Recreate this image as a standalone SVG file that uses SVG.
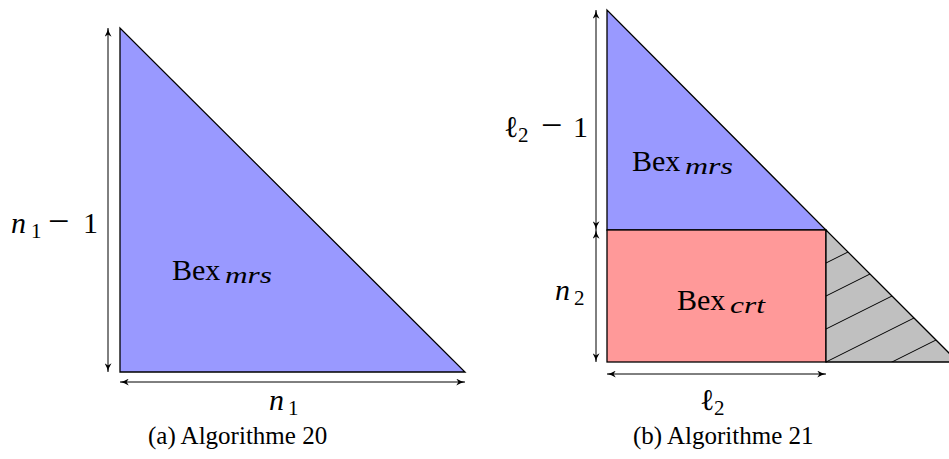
<svg xmlns="http://www.w3.org/2000/svg" width="949" height="459" viewBox="0 0 949 459">
<style>
.edge{stroke:#000;stroke-width:1.3;stroke-linejoin:miter}
.dim{stroke:#000;stroke-width:1;fill:none;marker-start:url(#ah);marker-end:url(#ah)}
.m{font-family:"Liberation Serif","DejaVu Serif",serif;fill:#000;font-size:30px}
.i{font-style:italic}
.s{font-size:21px}
.mn{font-size:38px}
.cap{font-family:"Liberation Serif","DejaVu Serif",serif;font-size:25px;fill:#000}
.hatch{stroke:#000;stroke-width:1}
</style>
<defs>
<marker id="ah" viewBox="0 0 10 8" refX="10" refY="4" markerWidth="9" markerHeight="7" markerUnits="userSpaceOnUse" orient="auto-start-reverse">
<path d="M0,0 Q5,3.3 10,4 Q5,4.7 0,8 L2.5,4 z" fill="#000"/>
</marker>
<clipPath id="grayclip"><polygon points="826,230 826,362 958,362"/></clipPath>
</defs>

<g id="shape-a">
<polygon class="edge" points="120,28 120,372 465,372" fill="#9999ff"/>
<text class="m" x="172" y="280" font-size="32">Bex<tspan class="i" x="225" y="283" font-size="24" textLength="47" lengthAdjust="spacingAndGlyphs">mrs</tspan></text>
</g>

<g id="shape-b-mrs">
<polygon class="edge" points="607,10 607,230 826,230" fill="#9999ff"/>
<text class="m" x="632" y="171" font-size="32">Bex<tspan class="i" x="685" y="174" font-size="24" textLength="48" lengthAdjust="spacingAndGlyphs">mrs</tspan></text>
</g>

<g id="shape-b-crt">
<rect class="edge" x="607" y="230" width="219" height="132" fill="#ff9999"/>
<text class="m" x="677" y="310" font-size="32">Bex<tspan class="i" x="730" y="313" font-size="24" textLength="35" lengthAdjust="spacingAndGlyphs">crt</tspan></text>
</g>

<g id="shape-b-hatch">
<polygon points="826,230 826,362 958,362" fill="#c0c0c0"/>
<g clip-path="url(#grayclip)">
<line class="hatch" x1="826" y1="263" x2="960" y2="196"/>
<line class="hatch" x1="826" y1="296" x2="960" y2="229"/>
<line class="hatch" x1="826" y1="329" x2="960" y2="262"/>
<line class="hatch" x1="826" y1="362" x2="960" y2="295"/>
<line class="hatch" x1="826" y1="395" x2="960" y2="328"/>
</g>
<polygon class="edge" points="826,230 826,362 958,362" fill="none"/>
</g>

<g id="connectors">
<line class="dim" x1="108" y1="28" x2="108" y2="372"/>
<line class="dim" x1="120" y1="382" x2="465" y2="382"/>
<line class="dim" x1="596" y1="10" x2="596" y2="230"/>
<line class="dim" x1="596" y1="230" x2="596" y2="362"/>
<line class="dim" x1="607" y1="374" x2="826" y2="374"/>
</g>

<g id="labels">
<text class="m" x="11" y="233"><tspan class="i">n</tspan><tspan class="s" x="31" y="238">1</tspan><tspan class="mn" x="48" y="234">−</tspan><tspan x="83" y="233">1</tspan></text>
<text class="m" x="269" y="410"><tspan class="i">n</tspan><tspan class="s" x="288" y="415">1</tspan></text>
<text class="m" x="504" y="137"><tspan>ℓ</tspan><tspan class="s" x="518" y="142">2</tspan><tspan class="mn" x="541" y="138">−</tspan><tspan x="573" y="137">1</tspan></text>
<text class="m" x="555" y="300"><tspan class="i">n</tspan><tspan class="s" x="574" y="305">2</tspan></text>
<text class="m" x="700" y="410"><tspan>ℓ</tspan><tspan class="s" x="714" y="415">2</tspan></text>
</g>

<g id="captions">
<text class="cap" x="148" y="444">(a) Algorithme 20</text>
<text class="cap" x="633" y="444">(b) Algorithme 21</text>
</g>
</svg>
